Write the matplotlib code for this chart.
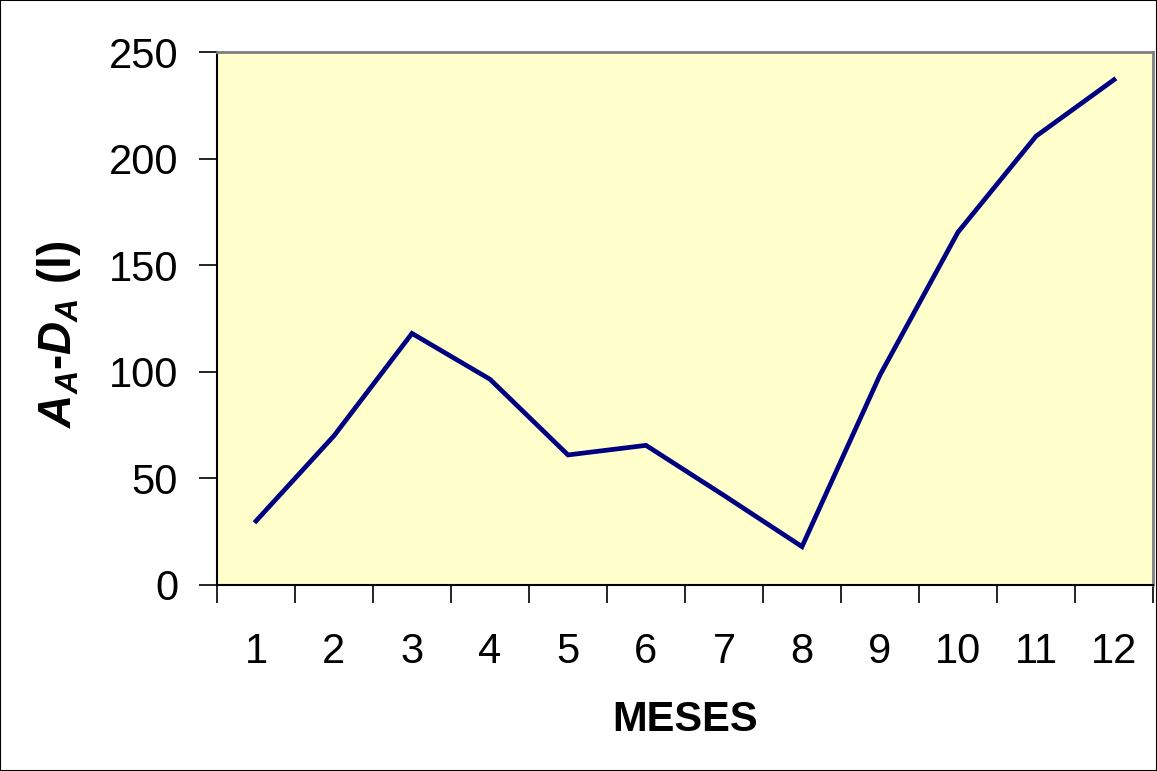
import matplotlib
matplotlib.use("Agg")
import matplotlib.pyplot as plt
from matplotlib.patches import Rectangle

meses = ["1", "2", "3", "4", "5", "6", "7", "8", "9", "10", "11", "12"]
valores = [30, 70, 118, 96.5, 61, 65.5, 42, 18, 98.5, 165.5, 210.5, 237]

plt.rcParams['font.family'] = ['Liberation Sans', 'DejaVu Sans']
plt.rcParams['mathtext.fontset'] = 'custom'
plt.rcParams['mathtext.rm'] = 'Liberation Sans:bold'
plt.rcParams['mathtext.it'] = 'Liberation Sans:bold:italic'
plt.rcParams['mathtext.bf'] = 'Liberation Sans:bold'

fig = plt.figure(figsize=(11.57, 7.71), dpi=100)
W, H = 1157, 771
ax = fig.add_axes([217 / W, 1 - 585 / H, (1153 - 217) / W, (585 - 52) / H])
ax.set_facecolor('#FFFFCC')

x = list(range(len(meses)))
ax.plot(x, valores, color='#000080', lw=3.4, solid_joinstyle='miter')

ax.set_xlim(-0.5, len(meses) - 0.5)
ax.set_ylim(0, 250)
ax.set_yticks(range(0, 251, 50))
ax.set_xticks([i - 0.5 for i in range(len(meses) + 1)], minor=False)
ax.set_xticklabels([])
ax.set_xticks(x, minor=True)
ax.set_xticklabels(meses, minor=True)
ax.tick_params(axis='x', which='major', length=13, width=1.2, direction='out', color='black')
ax.tick_params(axis='x', which='minor', length=0, pad=34, labelsize=30)
ax.tick_params(axis='y', length=13, width=1.2, direction='out', pad=15, labelsize=30)

for s in ['left', 'bottom']:
    ax.spines[s].set_color('black')
    ax.spines[s].set_linewidth(1.5)
for s in ['top', 'right']:
    ax.spines[s].set_color('#808080')
    ax.spines[s].set_linewidth(2)

ax.set_xlabel('MESES', fontsize=30, fontweight='bold', labelpad=20)
ax.set_ylabel(r'$A_A$-$D_A$ (l)', fontsize=33, fontweight='bold')
ax.yaxis.set_label_coords(-0.143, 0.47)

fig.patches.append(Rectangle((0, 0), 1, 1, transform=fig.transFigure, fill=False,
                             edgecolor='black', lw=1.5))

fig.savefig('out.png', dpi=100)
